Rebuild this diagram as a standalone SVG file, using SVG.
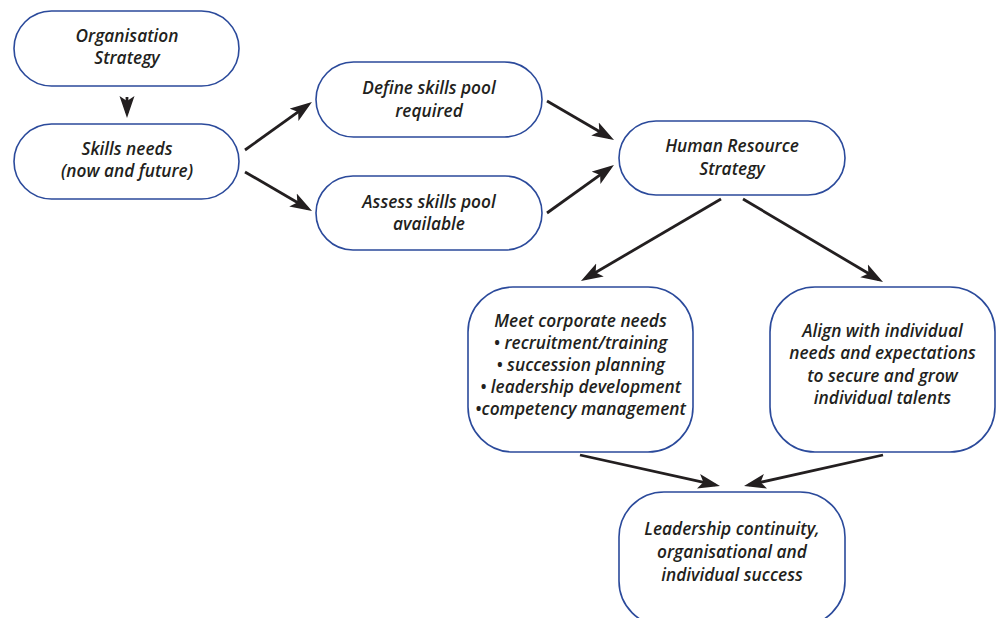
<svg xmlns="http://www.w3.org/2000/svg" width="996" height="618" viewBox="0 0 996 618">
<style>
.box{fill:#fff;stroke:#2b4a9b;stroke-width:1.6}
.t{font-family:"Open Sans","DejaVu Sans",sans-serif;font-style:italic;font-weight:600;font-size:17.3px;fill:#231f20;text-anchor:middle}
.c{stroke:#231f20;stroke-width:2.8;fill:none;marker-end:url(#ah)}
</style>
<defs>
<marker id="ah" markerUnits="userSpaceOnUse" viewBox="0 -8 22 16" markerWidth="22" markerHeight="16" refX="17" refY="0" orient="auto">
<path d="M0,-7.5 L22,0 L0,7.5 L5,0 Z" fill="#231f20"/>
</marker>
</defs>
<rect width="996" height="618" fill="#fff"/>
<g id="connectors">
<line class="c" x1="127" y1="97" x2="127" y2="113"/>
<line class="c" x1="245" y1="150" x2="307.9" y2="104.9"/>
<line class="c" x1="245" y1="172" x2="307.7" y2="208.5"/>
<line class="c" x1="547" y1="101" x2="609.7" y2="137.5"/>
<line class="c" x1="547" y1="213" x2="609.9" y2="167.9"/>
<line class="c" x1="721" y1="199" x2="585.3" y2="278.5"/>
<line class="c" x1="743" y1="199" x2="878.7" y2="279.5"/>
<line class="c" x1="580" y1="455" x2="715.1" y2="484.9"/>
<line class="c" x1="883" y1="455" x2="748.9" y2="484.9"/>
</g>
<g id="org-strategy">
<rect class="box" x="14" y="11" width="225" height="75" rx="37.5"/>
<text class="t" x="127" y="42">Organisation</text>
<text class="t" x="127" y="64">Strategy</text>
</g>
<g id="skills-needs">
<rect class="box" x="14" y="124" width="225" height="75" rx="37.5"/>
<text class="t" x="127" y="155">Skills needs</text>
<text class="t" x="127" y="177">(now and future)</text>
</g>
<g id="define-pool">
<rect class="box" x="316" y="62" width="226" height="75" rx="37.5"/>
<text class="t" x="429" y="94">Define skills pool</text>
<text class="t" x="429" y="117">required</text>
</g>
<g id="assess-pool">
<rect class="box" x="316" y="176" width="226" height="74" rx="37"/>
<text class="t" x="429" y="208">Assess skills pool</text>
<text class="t" x="429" y="230">available</text>
</g>
<g id="hr-strategy">
<rect class="box" x="619" y="121" width="226" height="74" rx="37"/>
<text class="t" x="732" y="152">Human Resource</text>
<text class="t" x="732" y="175">Strategy</text>
</g>
<g id="corporate-needs">
<rect class="box" x="468" y="287" width="225" height="165" rx="45"/>
<text class="t" x="580.5" y="327">Meet corporate needs</text>
<text class="t" x="580.5" y="349">• recruitment/training</text>
<text class="t" x="580.5" y="371">• succession planning</text>
<text class="t" x="580.5" y="393">• leadership development</text>
<text class="t" x="580.5" y="415">•competency management</text>
</g>
<g id="individual-needs">
<rect class="box" x="770" y="287" width="225" height="165" rx="45"/>
<text class="t" x="882.5" y="337">Align with individual</text>
<text class="t" x="882.5" y="359">needs and expectations</text>
<text class="t" x="882.5" y="382">to secure and grow</text>
<text class="t" x="882.5" y="404">individual talents</text>
</g>
<g id="success">
<rect class="box" x="619" y="492" width="226" height="134" rx="45"/>
<text class="t" x="732" y="535">Leadership continuity,</text>
<text class="t" x="732" y="558">organisational and</text>
<text class="t" x="732" y="581">individual success</text>
</g>
</svg>
